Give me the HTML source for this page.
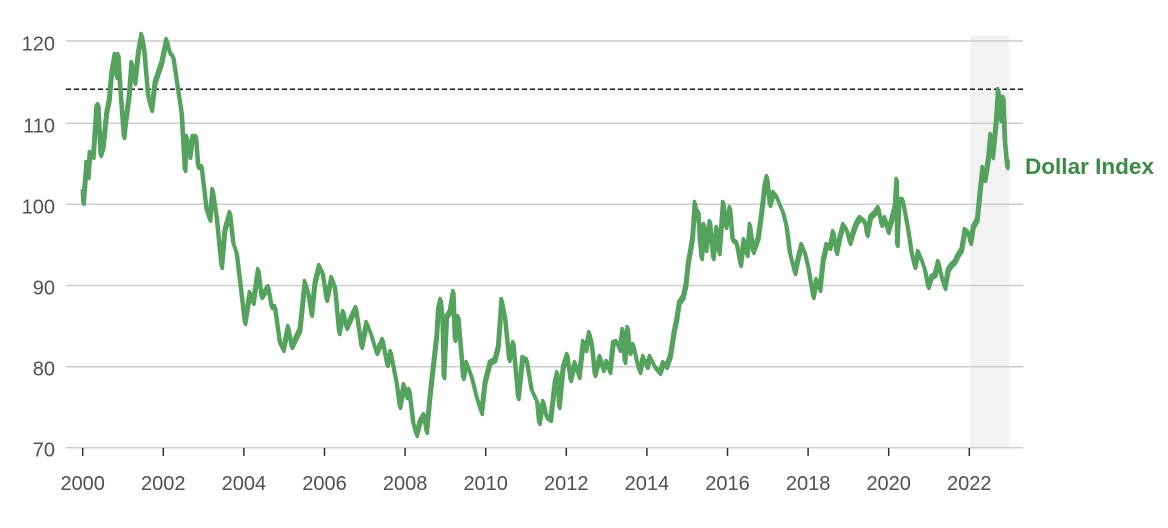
<!DOCTYPE html>
<html>
<head>
<meta charset="utf-8">
<style>
  html, body { margin:0; padding:0; background:#fff; }
  svg { display:block; }
  text { font-family: "Liberation Sans", "DejaVu Sans", sans-serif; }
</style>
</head>
<body>
<svg width="1168" height="528" viewBox="0 0 1168 528" xmlns="http://www.w3.org/2000/svg">
  <defs>
    <polyline id="s" fill="none" stroke-linejoin="round" stroke-linecap="round" points="
83,192 83.5,203 86.7,163 88.3,177 90,153 93.3,157 96.7,107 98.3,105 100.7,155 103.3,147 106.7,113 109.3,100 111.7,73 115,55 116.7,77 118.3,55 120,83 124,137 126,120 129.3,95 131.7,63 135,83 138.3,53 141.7,35 144,47 148.3,97 151.7,110 155,83 158.3,73 161.7,63 166.7,40 170,53 173.3,57 176.7,80 181.7,113 185,170 186.7,137 190,157 192.7,137 196,137 198.3,167 201.7,167 206.7,210 210,220 212.7,190 216.7,217 221.7,267 225,230 230,213 233.3,243 236.7,253 240,280 245,323 250,293 253.3,303 258.3,270 261.7,297 268.3,287 271.7,307 275,307 280,343 283.3,350 288.3,327 291.7,347 300,330 305,282 308.3,293 311.7,315 315,283 319.3,266 322.7,273 326.7,300 331.7,278 335,287 339.3,333 343.3,312 346.7,328 351.7,317 356,308 361.7,347 366.7,323 370.7,333 376.7,353 382.7,340 387.3,365 390.7,352 396.7,383 400,407 404,385 406.7,397 409.3,390 413.3,423 416.7,435 420,422 424,415 426.7,432 430,397 433.3,367 436.7,337 438.3,310 440.7,300 442.7,320 444,377 446.7,317 450,312 453.3,292 455,340 458.3,317 461.7,357 463.3,378 466.7,363 471.7,377 476.7,397 481.7,413 485,383 490,363 495,360 498.3,347 501.7,300 505,317 509.3,360 513.3,343 518.3,398 522.7,358 526.7,360 531.7,390 537.3,402 539.3,423 543.3,402 546.7,417 550.7,420 555,383 557.3,373 559.3,407 563.3,367 567.3,355 570.7,380 575,363 579.3,377 583.3,342 586,350 589.3,333 591.7,343 595,375 600,357 603.3,370 606.7,362 610,372 613.3,343 616.7,342 620,350 622.7,330 625,362 627.7,328 630,353 633.3,345 637.3,363 640,372 643.3,357 647.3,367 650,357 655,367 660,373 663.3,363 666.7,367 670.7,355 674,333 676.7,320 679.3,303 683.3,297 686,285 688.3,263 690.7,250 692.7,237 695,203 696.7,217 698.3,212 700,240 701.7,258 704,225 706,250 710,222 713.3,258 716.7,228 719.3,253 723.3,203 726,227 730,208 732.7,240 736.7,243 740.7,265 744,240 747.3,255 750,225 753.3,252 758.3,238 761.7,213 765,185 767,177 770,205 773.3,193 776.7,197 780,205 783.3,213 786.7,227 790,253 795,273 798.3,258 801.7,245 805,253 808.3,267 811.7,287 813.3,297 816.7,280 820,290 823.3,260 826.7,245 830,248 833.3,232 836.7,253 840,237 843.3,225 846.7,230 850,243 853.3,232 856.7,223 860,218 865,222 867.3,235 870.7,217 875,213 878.3,208 881.7,225 885,218 888.3,232 891.7,220 895,207 896.7,180 897.3,245 899.3,200 902.7,200 905,212 908.3,230 911.7,253 915,267 918.3,252 921.7,260 925,270 928.3,287 931.7,277 935,275 938.3,262 941.7,277 945,288 948.3,270 951.7,265 955,262 958.3,255 961.7,250 965,230 968.3,233 970.7,243 973.3,227 977.3,220 980,193 982.7,168 985,180 988.3,160 990.7,135 992.7,157 996,125 998.3,90 1000.7,120 1003.3,98 1005,142 1007.3,167 1007.5,160"/>
  </defs>
  <rect x="0" y="0" width="1168" height="528" fill="#ffffff"/>
  <!-- shaded 2022 region -->
  <rect x="970" y="35" width="39.5" height="413" fill="#f2f2f2"/>
  <!-- gridlines -->
  <g stroke="#cccccc" stroke-width="1.5">
    <line x1="66" y1="41" x2="1023" y2="41"/>
    <line x1="66" y1="123.3" x2="1023" y2="123.3"/>
    <line x1="66" y1="204.3" x2="1023" y2="204.3"/>
    <line x1="66" y1="285.5" x2="1023" y2="285.5"/>
    <line x1="66" y1="366.7" x2="1023" y2="366.7"/>
    <line x1="66" y1="447.7" x2="1023" y2="447.7"/>
  </g>
  <!-- y labels -->
  <g fill="#505050" font-size="20" text-anchor="end">
    <text x="55" y="50.5">120</text>
    <text x="55" y="132.5">110</text>
    <text x="55" y="213.5">100</text>
    <text x="55" y="294.5">90</text>
    <text x="55" y="375.7">80</text>
    <text x="55" y="456.7">70</text>
  </g>
  <!-- x ticks -->
  <g stroke="#333333" stroke-width="1.5">
    <line x1="82.7" y1="448" x2="82.7" y2="456"/>
    <line x1="163.3" y1="448" x2="163.3" y2="456"/>
    <line x1="243.9" y1="448" x2="243.9" y2="456"/>
    <line x1="324.5" y1="448" x2="324.5" y2="456"/>
    <line x1="405.1" y1="448" x2="405.1" y2="456"/>
    <line x1="485.7" y1="448" x2="485.7" y2="456"/>
    <line x1="566.3" y1="448" x2="566.3" y2="456"/>
    <line x1="646.9" y1="448" x2="646.9" y2="456"/>
    <line x1="727.5" y1="448" x2="727.5" y2="456"/>
    <line x1="808.1" y1="448" x2="808.1" y2="456"/>
    <line x1="888.7" y1="448" x2="888.7" y2="456"/>
    <line x1="969.3" y1="448" x2="969.3" y2="456"/>
  </g>
  <g fill="#505050" font-size="20" text-anchor="middle">
    <text x="82.7" y="490">2000</text>
    <text x="163.3" y="490">2002</text>
    <text x="243.9" y="490">2004</text>
    <text x="324.5" y="490">2006</text>
    <text x="405.1" y="490">2008</text>
    <text x="485.7" y="490">2010</text>
    <text x="566.3" y="490">2012</text>
    <text x="646.9" y="490">2014</text>
    <text x="727.5" y="490">2016</text>
    <text x="808.1" y="490">2018</text>
    <text x="888.7" y="490">2020</text>
    <text x="969.3" y="490">2022</text>
  </g>
  <!-- dashed reference line -->
  <line x1="66" y1="89.3" x2="1023" y2="89.3" stroke="#111111" stroke-width="1.5" stroke-dasharray="5,3"/>
  <!-- series (thickened to mimic daily noise) -->
  <g stroke="#55a25e" stroke-width="3.6">
    <use href="#s" transform="translate(0.6,1.4)"/>
    <use href="#s" transform="translate(-0.6,-1.4)"/>
    <use href="#s"/>
  </g>
  <!-- label -->
  <text x="1025" y="174" font-size="22" font-weight="bold" fill="#3b8a46" textLength="129" lengthAdjust="spacingAndGlyphs">Dollar Index</text>
</svg>
</body>
</html>
